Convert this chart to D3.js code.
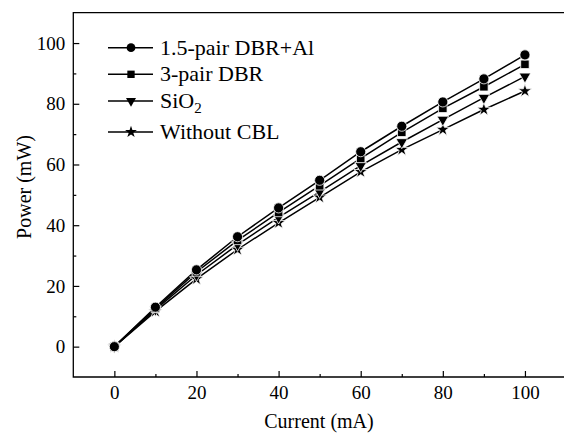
<!DOCTYPE html>
<html>
<head>
<meta charset="utf-8">
<script src="https://cdn.jsdelivr.net/npm/d3@7"></script>
<style>
  body { margin: 0; background: #fff; }
  svg text { font-family: "Liberation Serif", "Times New Roman", serif !important; fill: #000; }
</style>
</head>
<body>
<div id="container"></div>
<script>
var current = [0, 10, 20, 30, 40, 50, 60, 70, 80, 90, 100];
var dbrAl = [0, 13, 25.3, 36.2, 45.7, 54.8, 64.2, 72.6, 80.6, 88.2, 96.1];
var dbr3 = [0, 12.6, 24.6, 35, 44.2, 53, 62, 70.6, 78.5, 85.6, 93];
var sio2 = [0, 12.2, 23.6, 33.6, 42.6, 51, 59.6, 67.4, 74.8, 82, 89];
var noCbl = [0, 11.6, 22.3, 32, 40.8, 49.2, 57.6, 64.9, 71.5, 78.1, 84.2];
var seriesNames = ['1.5-pair DBR+Al', '3-pair DBR', 'SiO2', 'Without CBL'];
var xTicks = [0, 20, 40, 60, 80, 100];
var yTicks = [0, 20, 40, 60, 80, 100];

var width = 564,
    height = 439,
    serif = '"Liberation Serif", "Times New Roman", serif';

var svg = d3.select('#container')
    .append('svg')
    .attr('width', width)
    .attr('height', height)
    .attr('font-family', serif);

var x = d3.scaleLinear().domain([-10, 110]).range([73.3, 566]);
var y = d3.scaleLinear().domain([-10, 110]).range([377, 12.7]);

var series = [
    { name: seriesNames[0], values: dbrAl, symbol: d3.symbolCircle, size: 80, rot: 0 },
    { name: seriesNames[1], values: dbr3, symbol: d3.symbolSquare, size: 72, rot: 0 },
    { name: seriesNames[2], values: sio2, symbol: d3.symbolTriangle, size: 58, rot: 180 },
    { name: seriesNames[3], values: noCbl, symbol: d3.symbolStar, size: 58, rot: 0 }
];

// frame (right side falls outside the picture)
svg.append('path')
    .attr('d', 'M' + x(110) + ',' + y(110) + 'H' + x(-10) + 'V' + y(-10) + 'H' + x(110))
    .attr('fill', 'none')
    .attr('stroke', '#000')
    .attr('stroke-width', 1.3);

// axes, ticks inside
var xMajor = svg.append('g')
    .attr('transform', 'translate(0,' + y(-10) + ')')
    .call(d3.axisBottom(x).tickValues(xTicks).tickSize(-6).tickPadding(9));
var xMinor = svg.append('g')
    .attr('transform', 'translate(0,' + y(-10) + ')')
    .call(d3.axisBottom(x).tickValues([10, 30, 50, 70, 90]).tickSize(-3).tickFormat(''));
var yMajor = svg.append('g')
    .attr('transform', 'translate(' + x(-10) + ',0)')
    .call(d3.axisLeft(y).tickValues(yTicks).tickSize(-6).tickPadding(8));
var yMinor = svg.append('g')
    .attr('transform', 'translate(' + x(-10) + ',0)')
    .call(d3.axisLeft(y).tickValues([10, 30, 50, 70, 90]).tickSize(-3).tickFormat(''));

[xMajor, xMinor, yMajor, yMinor].forEach(function(g) {
    g.attr('font-family', serif).attr('font-size', 19);
    g.select('.domain').remove();
    g.selectAll('line').attr('stroke', '#000').attr('stroke-width', 1.2);
    g.selectAll('text').attr('fill', '#000');
});

// axis titles
svg.append('text')
    .attr('x', 319)
    .attr('y', 428)
    .attr('text-anchor', 'middle')
    .attr('font-size', 20)
    .text('Current (mA)');
svg.append('text')
    .attr('transform', 'translate(31,187) rotate(-90)')
    .attr('text-anchor', 'middle')
    .attr('font-size', 20)
    .text('Power (mW)');

var line = d3.line()
    .x(function(d, i) { return x(current[i]); })
    .y(function(d) { return y(d); });

var plot = svg.append('g');
series.slice().reverse().forEach(function(s) {
    plot.append('path')
        .datum(s.values)
        .attr('d', line)
        .attr('fill', 'none')
        .attr('stroke', '#000')
        .attr('stroke-width', 1.5);
});
series.slice().reverse().forEach(function(s) {
    plot.selectAll(null)
        .data(s.values)
        .enter()
        .append('path')
        .attr('d', d3.symbol().type(s.symbol).size(s.size))
        .attr('transform', function(d, i) {
            return 'translate(' + x(current[i]) + ',' + y(d) + ') rotate(' + s.rot + ')';
        })
        .attr('fill', '#000')
        .attr('stroke', '#fff')
        .attr('stroke-width', 0.8);
});

// legend
var legendY = [47.7, 74.3, 101, 132];
var legend = svg.append('g');
series.forEach(function(s, i) {
    var row = legend.append('g').attr('transform', 'translate(0,' + legendY[i] + ')');
    row.append('line')
        .attr('x1', 108).attr('x2', 153)
        .attr('stroke', '#000').attr('stroke-width', 1.5);
    row.append('path')
        .attr('d', d3.symbol().type(s.symbol).size(s.size * 0.75))
        .attr('transform', 'translate(131,0) rotate(' + s.rot + ')')
        .attr('fill', '#000');
    var t = row.append('text')
        .attr('x', 160)
        .attr('y', 7)
        .attr('font-size', 22);
    if (s.name === 'SiO2') {
        t.append('tspan').text('SiO');
        t.append('tspan').attr('dy', 5).attr('font-size', 15).text('2');
    } else {
        t.text(s.name);
    }
});
</script>
</body>
</html>
